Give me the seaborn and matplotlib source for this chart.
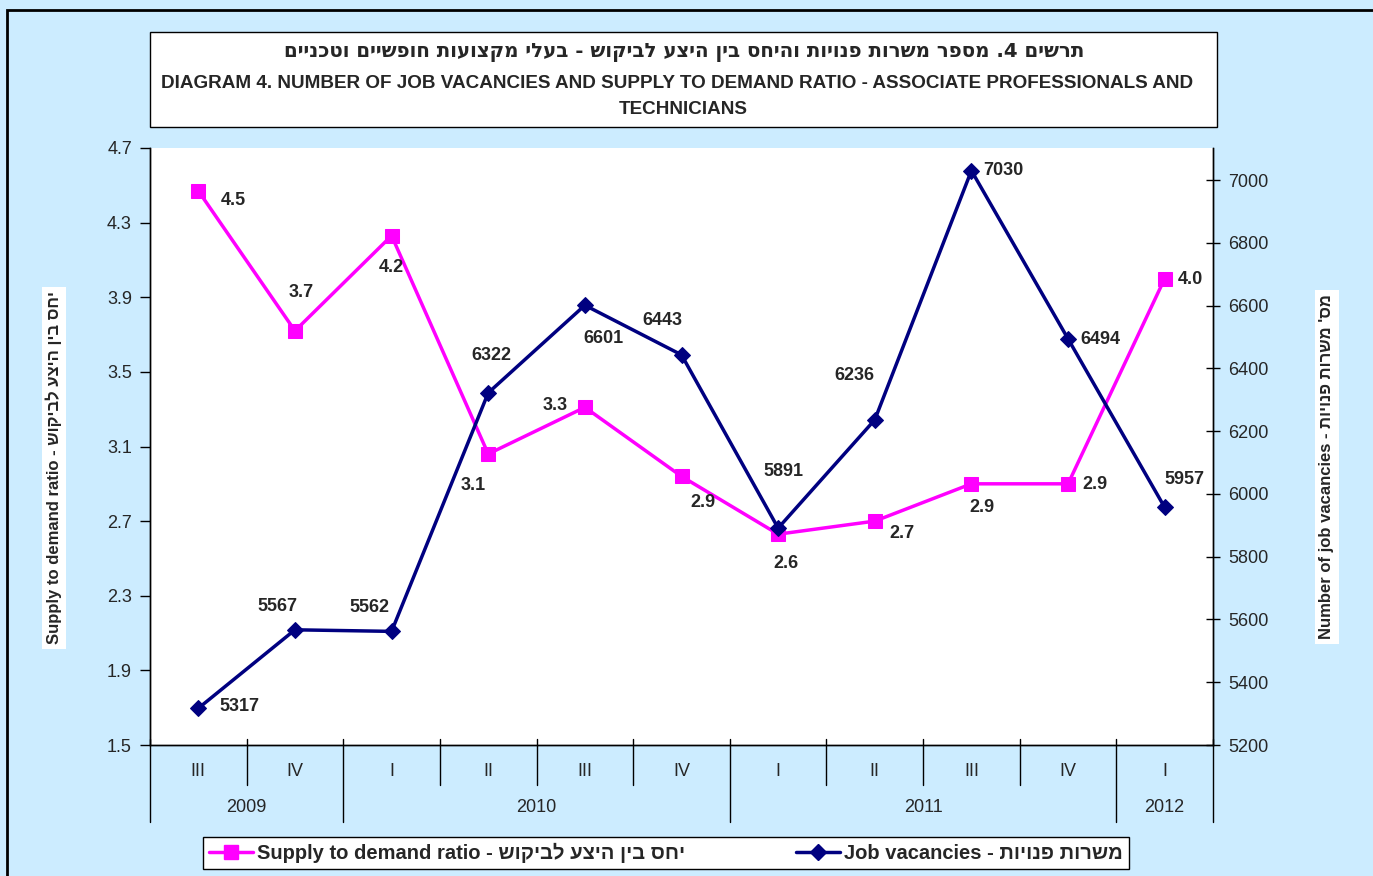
import matplotlib
matplotlib.use('Agg')
import matplotlib.pyplot as plt
import matplotlib.transforms as mtransforms
from matplotlib.patches import Rectangle
from matplotlib.lines import Line2D
import seaborn as sns
import pandas as pd
import numpy as np

sns.set_theme(style='white')
plt.rcParams['font.family'] = ['Liberation Sans', 'DejaVu Sans']

# ---------------- data ----------------
quarters = ['III', 'IV', 'I', 'II', 'III', 'IV', 'I', 'II', 'III', 'IV', 'I']
years = ['2009', '2010', '2011', '2012']
year_spans = [2, 4, 4, 1]
ratio = [4.47, 3.72, 4.23, 3.06, 3.31, 2.94, 2.63, 2.70, 2.90, 2.90, 4.00]
vacancies = [5317, 5567, 5562, 6322, 6601, 6443, 5891, 6236, 7030, 6494, 5957]

ratio_ticks = [1.5, 1.9, 2.3, 2.7, 3.1, 3.5, 3.9, 4.3, 4.7]
vac_ticks = [5200, 5400, 5600, 5800, 6000, 6200, 6400, 6600, 6800, 7000]

title_he = 'תרשים 4. מספר משרות פנויות והיחס בין היצע לביקוש - בעלי מקצועות חופשיים וטכניים'
title_en1 = 'DIAGRAM 4. NUMBER OF JOB VACANCIES AND SUPPLY TO DEMAND RATIO - ASSOCIATE PROFESSIONALS AND'
title_en2 = 'TECHNICIANS'
ratio_he = 'יחס בין היצע לביקוש'
vac_he = 'משרות פנויות'
vac_axis_he = "מס' משרות פנויות"

# label offsets in pixels (layout only)
ratio_off = [(35, -10), (6, 38), (0, -32), (-15, -32), (-30, 2), (21, -26),
             (8, -29), (27, -12), (11, -24), (27, -1), (26, -1)]
vac_off = [(41, 2), (-18, 23), (-22, 24), (3, 37), (19, -33), (-19, 34),
           (5, 57), (-20, 44), (32, 0), (32, -1), (20, 28)]


def heb(s):
    return s[::-1]


W, H = 1373, 876
BG = '#CCECFF'
MAG = '#FF00FF'
NAVY = '#000080'

fig = plt.figure(figsize=(W / 100, H / 100), dpi=100, facecolor=BG)

# outer border
fig.patches.append(Rectangle((7 / W, -0.02), 1.0, (H - 10) / H + 0.02,
                             transform=fig.transFigure, facecolor='none',
                             edgecolor='black', lw=2, zorder=0))

# title box
fig.patches.append(Rectangle((150 / W, 1 - 127 / H), 1067 / W, 95 / H,
                             transform=fig.transFigure, facecolor='white',
                             edgecolor='black', lw=1, zorder=1))
fig.text(684 / W, 1 - 53 / H, heb(title_he), ha='center', va='center',
         fontsize=14.2, fontweight='bold', family=['DejaVu Sans'], zorder=2)
fig.text(677 / W, 1 - 83 / H, title_en1, ha='center', va='center',
         fontsize=13.6, fontweight='bold', zorder=2)
fig.text(683 / W, 1 - 109 / H, title_en2, ha='center', va='center',
         fontsize=13.6, fontweight='bold', zorder=2)

ax = fig.add_axes([150 / W, 1 - 745 / H, (1213 - 150) / W, (745 - 148) / H])
ax.set_facecolor('white')
ax2 = ax.twinx()

df = pd.DataFrame({'x': np.arange(len(quarters)), 'ratio': ratio, 'vac': vacancies})

sns.lineplot(data=df, x='x', y='ratio', ax=ax, color=MAG, marker='s',
             markersize=10, markeredgecolor=MAG, linewidth=2.5)
sns.lineplot(data=df, x='x', y='vac', ax=ax2, color=NAVY, marker='D',
             markersize=8, markeredgecolor=NAVY, linewidth=2.5)

n = len(quarters)
ax.set_xlim(-0.5, n - 0.5)
ax.set_ylim(1.5, 4.7)
ax.set_yticks(ratio_ticks)
ax.set_yticklabels([f'{t:.1f}' for t in ratio_ticks], fontsize=13)
ax2.set_ylim(5200, 7102)
ax2.set_yticks(vac_ticks)
ax2.set_yticklabels([str(t) for t in vac_ticks], fontsize=13)
ax.set_xticks([])
ax.set_xlabel('')
ax.set_ylabel('')
ax2.set_ylabel('')
for a in (ax, ax2):
    a.spines['top'].set_visible(False)
    for side in ('left', 'right', 'bottom'):
        a.spines[side].set_color('black')
        a.spines[side].set_linewidth(1)
ax.tick_params(axis='y', direction='out', length=7, width=1, color='black', left=True, pad=6)
ax2.tick_params(axis='y', direction='inout', length=10, width=1, color='black', right=True, pad=6)

# category table under the axis
trans = mtransforms.blended_transform_factory(ax.transData, ax.transAxes)
year_bounds = set(np.cumsum([0] + year_spans).tolist())
for i in range(n + 1):
    b = i - 0.5
    bottom = -0.129 if i in year_bounds else -0.067
    ax.plot([b, b], [0.01, bottom], transform=trans, clip_on=False,
            color='black', lw=1)
for i, q in enumerate(quarters):
    ax.text(i, -0.045, q, transform=trans, ha='center', va='center', fontsize=13)
start = 0
for y, s in zip(years, year_spans):
    ax.text(start + s / 2 - 0.5, -0.1055, y, transform=trans, ha='center',
            va='center', fontsize=13)
    start += s

# data labels
for i, v in enumerate(ratio):
    ax.annotate(f'{v:.1f}', (i, v), xytext=ratio_off[i], textcoords='offset pixels',
                ha='center', va='center', fontsize=13, fontweight='bold')
for i, v in enumerate(vacancies):
    ax2.annotate(f'{v}', (i, v), xytext=vac_off[i], textcoords='offset pixels',
                 ha='center', va='center', fontsize=13, fontweight='bold')

# axis titles
fig.text(54 / W, 1 - 468 / H, 'Supply to demand ratio - ' + heb(ratio_he),
         rotation=90, ha='center', va='center', fontsize=12, fontweight='bold',
         bbox=dict(facecolor='white', edgecolor='none', pad=3))
fig.text(1327 / W, 1 - 467 / H, 'Number of job vacancies - ' + heb(vac_axis_he),
         rotation=90, ha='center', va='center', fontsize=12, fontweight='bold',
         bbox=dict(facecolor='white', edgecolor='none', pad=3))

# legend
handles = [Line2D([0], [0], color=MAG, lw=2.5, marker='s', markersize=10, markeredgecolor=MAG),
           Line2D([0], [0], color=NAVY, lw=2.5, marker='D', markersize=8, markeredgecolor=NAVY)]
labels = ['Supply to demand ratio - ' + heb(ratio_he), 'Job vacancies - ' + heb(vac_he)]
leg = fig.legend(handles, labels, loc='center', bbox_to_anchor=(666 / W, 1 - 853 / H),
                 ncol=2, frameon=True, fancybox=False, edgecolor='black', framealpha=1,
                 prop={'size': 14.5, 'weight': 'bold'}, handlelength=2.2,
                 handletextpad=0.2, columnspacing=5.5, borderpad=0.3, borderaxespad=0)
leg.get_frame().set_linewidth(1)
leg.get_frame().set_facecolor('white')

fig.savefig('out.png', dpi=100, facecolor=BG)
